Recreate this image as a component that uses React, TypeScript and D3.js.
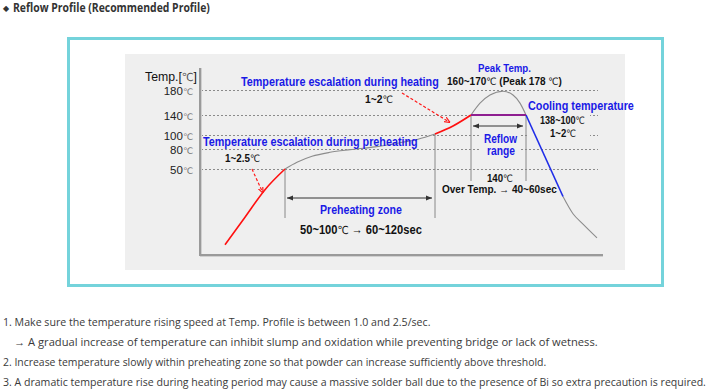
import React, { useLayoutEffect, useRef } from 'react';
import * as d3 from 'd3';

// y axis of the original is drawn unevenly, so the scale is piecewise
const tempTicks = [50, 80, 100, 140, 180];
const tempBreaks = [25, 50, 80, 100, 140, 180];

// profile segments: time (sec, schematic) / temperature (℃)
const rampTime = [25, 45, 65, 85];
const rampTemp = [28, 36, 44, 50];
const soakTime = [85, 97, 112, 130, 150, 175, 200, 218, 235];
const soakTemp = [50, 60, 69, 75, 79, 83, 89, 94, 102];
const heatTime = [235, 253, 271];
const heatTemp = [102, 118, 140];
const peakTime = [271, 280, 290, 303, 313, 320, 326];
const peakTemp = [140, 159, 172, 178, 172, 159, 140];
const reflowTime = [271, 326];
const reflowTemp = [140, 140];
const coolTime = [326, 363];
const coolTemp = [140, 42];
const tailTime = [363, 373, 383, 397];
const tailTemp = [42, 37, 34, 30];

const notes = [
  '1. Make sure the temperature rising speed at Temp. Profile is between 1.0 and 2.5/sec.',
  '→ A gradual increase of temperature can inhibit slump and oxidation while preventing bridge or lack of wetness.',
  '2. Increase temperature slowly within preheating zone so that powder can increase sufficiently above threshold.',
  '3. A dramatic temperature rise during heating period may cause a massive solder ball due to the presence of Bi so extra precaution is required.',
];

const W = 725;
const H = 392;
const PANEL = '#efefef';
const BLUE = '#1a1ae6';
const FONT = '"Liberation Sans", Arial, sans-serif';

const zip = (t: number[], v: number[]) => t.map((d, i) => [d, v[i]] as [number, number]);

// the original uses a condensed face: squeeze each label horizontally to its measured width
function FitText({ x, y, w, children, ...rest }: any) {
  const ref = useRef<SVGTextElement>(null);
  useLayoutEffect(() => {
    const fit = () => {
      const el = ref.current;
      if (!el) return;
      el.removeAttribute('transform');
      const len = el.getComputedTextLength();
      if (len > 0) {
        const s = w / len;
        d3.select(el).attr('transform', `translate(${x},0) scale(${s},1) translate(${-x},0)`);
      }
    };
    fit();
    (document as any).fonts?.ready.then(fit);
  }, [x, w]);
  return <text ref={ref} x={x} y={y} {...rest}>{children}</text>;
}

// the degree sign is drawn lighter in the original
const Deg = ({ size = 10 }: { size?: number }) => (
  <tspan fontFamily='"DejaVu Sans", sans-serif' fontWeight="normal" fontSize={size}>℃</tspan>
);

export default function App() {
  const x = d3.scaleLinear().domain([0, 400]).range([200, 600]);
  const y = d3.scaleLinear().domain(tempBreaks).range([255, 169, 149, 135, 115, 90]);

  const smooth = d3.line<[number, number]>()
    .x(d => x(d[0]))
    .y(d => y(d[1]))
    .curve(d3.curveMonotoneX);
  const straight = d3.line<[number, number]>()
    .x(d => x(d[0]))
    .y(d => y(d[1]));

  const soakStart = x(soakTime[0]);
  const soakEnd = x(soakTime[soakTime.length - 1]);
  const reflowStart = x(reflowTime[0]);
  const reflowEnd = x(reflowTime[1]);

  // dashed pointers end on the curve
  const p1 = [x(63), y(43)];
  const p2 = [x(250), y(115) - 5];

  const noteLen = [431, 598, 547, 707];
  const noteX = [3, 14, 3, 3];

  return (
    <div style={{ position: 'absolute', left: 0, top: 0 }}>
      <svg width={W} height={H} style={{ display: 'block', fontFamily: FONT }}>
        <defs>
          <marker id="tip" viewBox="0 0 6 6" refX={6} refY={3} markerWidth={6} markerHeight={6}
            markerUnits="userSpaceOnUse" orient="auto-start-reverse">
            <path d="M0,0.5 L6,3 L0,5.5 Z" fill="#333" />
          </marker>
          <marker id="tipRed" viewBox="0 0 6 6" refX={6} refY={3} markerWidth={6} markerHeight={6}
            markerUnits="userSpaceOnUse" orient="auto">
            <path d="M0,0.5 L6,3 L0,5.5" fill="none" stroke="#ff1a1a" strokeWidth={1.2} />
          </marker>
        </defs>

        {/* title */}
        <text x={3} y={11} fontSize={8} fill="#333">◆</text>
        <FitText x={13} y={12} w={197} fontSize={11.5} fontWeight="bold" fill="#333"
          fontFamily='"Open Sans", sans-serif'>Reflow Profile (Recommended Profile)</FitText>

        {/* frame + chart panel */}
        <rect x={68.5} y={38.5} width={594} height={247} fill="none" stroke="#74d3db" strokeWidth={3} />
        <rect x={125} y={54} width={500} height={216} fill={PANEL} />

        {/* grid */}
        {tempTicks.map(t => (
          <line key={t} x1={201} x2={598} y1={y(t) + 0.5} y2={y(t) + 0.5}
            stroke="#8a8a8a" strokeDasharray="2,2" />
        ))}
        {/* label backgrounds hiding the grid */}
        <rect x={481} y={132} width={40} height={25} fill={PANEL} />
        <rect x={527} y={99} width={63} height={42} fill={PANEL} />

        {/* axes */}
        <line x1={201.5} x2={201.5} y1={68} y2={256} stroke="#d0d0d0" strokeWidth={1} />
        <line x1={200} x2={603} y1={256.5} y2={256.5} stroke="#d0d0d0" strokeWidth={1} />
        <line x1={200} x2={200} y1={68} y2={255} stroke="#9a9a9a" strokeWidth={2} />
        <line x1={199} x2={603} y1={255} y2={255} stroke="#9a9a9a" strokeWidth={2} />

        {tempTicks.map(t => (
          <text key={t} x={193} y={y(t) + 5} textAnchor="end" fontSize={11.5} fill="#222">
            {t}<tspan fontFamily='"DejaVu Sans", sans-serif' fontSize={9} fill="#777">℃</tspan>
          </text>
        ))}
        <FitText x={145} y={81} w={52} fontSize={13} fill="#111">
          Temp.[<tspan fontFamily='"DejaVu Sans", sans-serif' fontSize={11} fill="#555">℃</tspan>]
        </FitText>

        {/* guide lines */}
        <line x1={soakStart} x2={soakStart} y1={y(soakTemp[0])} y2={218} stroke="#888" />
        <line x1={soakEnd} x2={soakEnd} y1={y(soakTemp[soakTemp.length - 1])} y2={218} stroke="#888" />
        <line x1={reflowStart} x2={reflowStart} y1={y(140)} y2={181} stroke="#888" />
        <line x1={reflowEnd} x2={reflowEnd} y1={y(140)} y2={181} stroke="#888" />

        {/* profile */}
        <path d={smooth(zip(soakTime, soakTemp)) || ''} fill="none" stroke="#8c8c8c" strokeWidth={1.1} />
        <path d={smooth(zip(peakTime, peakTemp)) || ''} fill="none" stroke="#8c8c8c" strokeWidth={1.1} />
        <path d={smooth(zip(tailTime, tailTemp)) || ''} fill="none" stroke="#8c8c8c" strokeWidth={1.1} />
        <path d={smooth(zip(rampTime, rampTemp)) || ''} fill="none" stroke="#ff1010" strokeWidth={1.6} />
        <path d={smooth(zip(heatTime, heatTemp)) || ''} fill="none" stroke="#ff1010" strokeWidth={1.8} />
        <path d={straight(zip(coolTime, coolTemp)) || ''} fill="none" stroke="#1f2de8" strokeWidth={1.6} />
        <path d={straight(zip(reflowTime, reflowTemp)) || ''} fill="none" stroke="#8e1e90" strokeWidth={2} />

        {/* zone arrows */}
        <line x1={soakStart + 2} x2={soakEnd - 3} y1={198} y2={198} stroke="#333"
          markerStart="url(#tip)" markerEnd="url(#tip)" />
        <line x1={reflowStart + 2} x2={reflowEnd - 3} y1={126} y2={126} stroke="#333"
          markerStart="url(#tip)" markerEnd="url(#tip)" />

        {/* dashed pointers */}
        <line x1={p1[0] - 11} y1={p1[1] - 24} x2={p1[0]} y2={p1[1]} stroke="#ff1a1a" strokeWidth={1.2}
          strokeDasharray="3,2" markerEnd="url(#tipRed)" />
        <line x1={402} y1={93} x2={p2[0]} y2={p2[1]} stroke="#ff1a1a" strokeWidth={1.2}
          strokeDasharray="3,2" markerEnd="url(#tipRed)" />

        {/* blue captions */}
        <g fill={BLUE} fontWeight="bold" fontSize={12}>
          <FitText x={241} y={86} w={198} fontSize={12.5}>Temperature escalation during heating</FitText>
          <FitText x={203} y={146} w={215} fontSize={12.5}>Temperature escalation during preheating</FitText>
          <FitText x={528} y={110} w={106}>Cooling temperature</FitText>
          <FitText x={478} y={72} w={53} fontSize={11}>Peak Temp.</FitText>
          <FitText x={484} y={143} w={33}>Reflow</FitText>
          <FitText x={487} y={155} w={28}>range</FitText>
          <FitText x={320} y={214} w={82}>Preheating zone</FitText>
        </g>

        {/* black captions */}
        <g fill="#111" fontWeight="bold" fontSize={11}>
          <FitText x={365} y={103} w={28}>1~2<Deg /></FitText>
          <FitText x={447} y={85} w={115}>160~170<Deg /> (Peak 178 <Deg />)</FitText>
          <FitText x={540} y={124} w={45}>138~100<Deg /></FitText>
          <FitText x={550} y={137} w={26}>1~2<Deg /></FitText>
          <FitText x={487} y={182} w={26}>140<Deg /></FitText>
          <FitText x={442} y={193} w={115}>Over Temp. → 40~60sec</FitText>
          <FitText x={225} y={162} w={35}>1~2.5<Deg /></FitText>
          <FitText x={300} y={234} w={122} fontSize={12.5}>50~100<Deg size={11} /> → 60~120sec</FitText>
        </g>

        {/* notes */}
        <g fontFamily='"Open Sans", sans-serif' fontSize={11.5} fill="#3a3a3a">
          {notes.map((n, i) => (
            <FitText key={i} x={noteX[i]} y={326 + i * 20} w={noteLen[i] - noteX[i]}>{n}</FitText>
          ))}
        </g>
      </svg>
    </div>
  );
}
